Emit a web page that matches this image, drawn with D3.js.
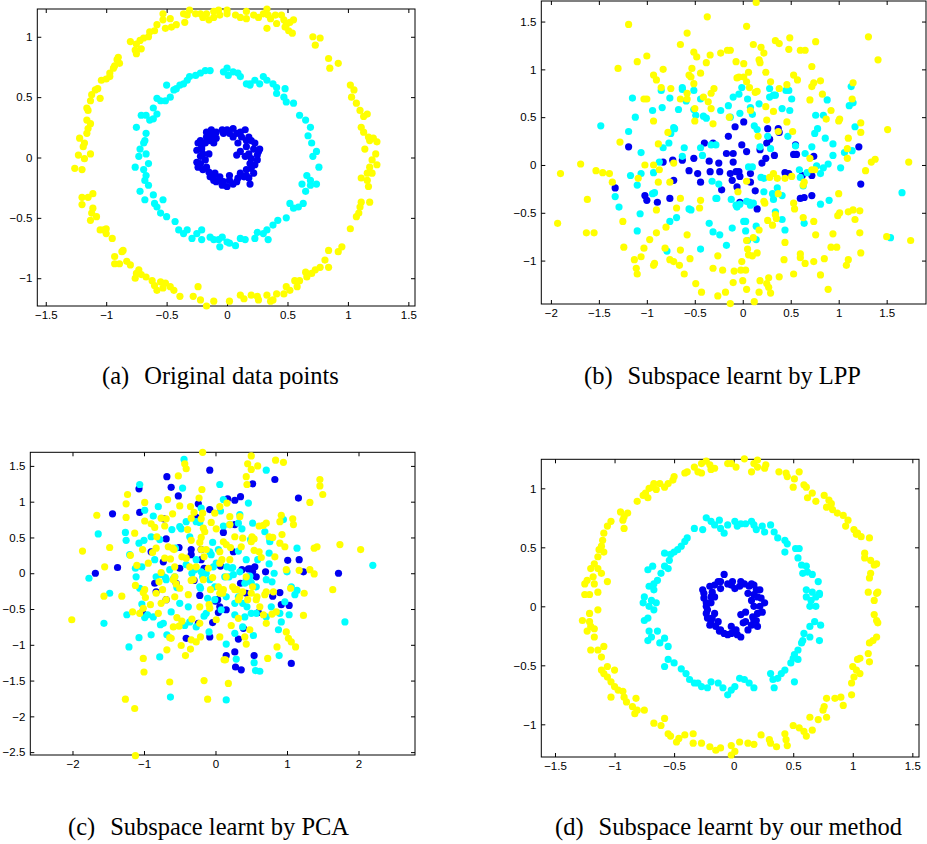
<!DOCTYPE html>
<html>
<head>
<meta charset="utf-8">
<script src="https://cdn.jsdelivr.net/npm/d3@7"></script>
<style>
body { margin: 0; background: #fff; }
</style>
</head>
<body>
<script>
// (a) original data points
var aYellow = [[-0.53,1.19],[-0.47,1.15],[-0.53,1.14],[-0.58,1.10],[-0.60,1.05],[-0.64,1.04],[-0.65,1.00],[-0.69,0.99],[-0.72,0.97],[-0.75,0.94],[-0.80,0.96],[-0.76,0.89],[-0.75,0.86],[-0.71,0.90],[-0.36,1.19],[-0.33,1.18],[-0.35,1.12],[-0.42,1.10],[-0.46,1.08],[-0.51,1.07],[-0.31,1.22],[-0.26,1.19],[-0.22,1.19],[-0.17,1.19],[-0.11,1.21],[-0.07,1.22],[-0.11,1.16],[-0.15,1.14],[-0.20,1.16],[-0.06,1.18],[0.00,1.19],[0.00,1.22],[0.07,1.18],[0.11,1.16],[0.16,1.21],[0.16,1.15],[0.22,1.18],[0.26,1.16],[0.30,1.19],[0.33,1.23],[0.34,1.18],[0.36,1.15],[0.33,1.07],[0.40,1.18],[0.41,1.11],[0.45,1.18],[0.47,1.14],[0.49,1.10],[0.52,1.12],[0.55,1.14],[0.54,1.03],[0.48,1.08],[0.51,1.05],[0.71,1.00],[0.73,0.93],[0.77,0.99],[0.84,0.82],[0.85,0.74],[0.92,0.78],[1.02,0.60],[1.03,0.50],[1.05,0.56],[1.07,0.45],[1.10,0.39],[1.13,0.34],[1.16,0.36],[1.11,0.25],[1.13,0.21],[1.17,0.17],[1.18,0.14],[1.21,0.16],[1.24,0.13],[1.14,0.07],[1.23,0.03],[1.20,-0.02],[1.18,-0.08],[1.24,-0.06],[1.16,-0.13],[1.20,-0.13],[1.11,-0.17],[1.16,-0.19],[1.17,-0.24],[1.11,-0.37],[1.18,-0.37],[1.10,-0.41],[1.09,-0.46],[1.07,-0.49],[1.02,-0.59],[0.95,-0.74],[0.92,-0.78],[0.84,-0.77],[0.84,-0.91],[0.81,-0.85],[0.77,-0.91],[0.73,-0.93],[0.70,-0.96],[0.66,-0.99],[0.65,-0.95],[0.60,-1.02],[0.56,-1.02],[0.58,-1.07],[0.49,-1.07],[0.52,-1.10],[0.47,-1.13],[0.41,-1.13],[0.38,-1.18],[0.36,-1.19],[0.33,-1.14],[0.25,-1.15],[0.26,-1.18],[0.20,-1.14],[0.14,-1.17],[0.11,-1.14],[0.02,-1.19],[-0.11,-1.19],[-0.17,-1.23],[-0.22,-1.18],[-0.24,-1.07],[-0.28,-1.15],[-0.39,-1.15],[-0.44,-1.10],[-0.47,-1.07],[-0.53,-1.08],[-0.51,-1.04],[-0.55,-1.03],[-0.60,-1.06],[-0.58,-1.10],[-0.62,-1.02],[-0.67,-0.99],[-0.71,-0.97],[-0.75,-0.96],[-0.76,-1.00],[-0.73,-0.93],[-0.80,-0.89],[-0.83,-0.86],[-0.89,-0.88],[-0.87,-0.78],[-0.86,-0.77],[-0.93,-0.82],[-0.93,-0.88],[-0.95,-0.67],[-1.00,-0.63],[-1.02,-0.60],[-1.05,-0.60],[-1.00,-0.59],[-1.08,-0.49],[-1.12,-0.46],[-1.13,-0.52],[-1.11,-0.42],[-1.11,-0.30],[-1.15,-0.33],[-1.20,-0.33],[-1.20,-0.39],[-1.26,-0.09],[-1.20,-0.10],[-1.23,0.02],[-1.18,-0.01],[-1.13,0.03],[-1.19,0.09],[-1.18,0.12],[-1.22,0.16],[-1.16,0.20],[-1.15,0.24],[-1.13,0.28],[-1.16,0.31],[-1.15,0.39],[-1.16,0.41],[-1.13,0.47],[-1.12,0.52],[-1.09,0.56],[-1.07,0.57],[-1.05,0.49],[-1.04,0.64],[-1.00,0.65],[-0.97,0.67],[-0.97,0.70],[-0.94,0.74],[-0.93,0.76],[-0.91,0.81],[-0.90,0.83],[-0.89,0.78]];
var aCyan = [[-0.14,0.72],[-0.18,0.72],[-0.22,0.70],[-0.26,0.68],[-0.31,0.67],[-0.33,0.64],[-0.36,0.61],[-0.39,0.60],[-0.42,0.57],[-0.44,0.56],[-0.50,0.60],[-0.47,0.50],[-0.51,0.47],[-0.55,0.47],[-0.58,0.49],[-0.61,0.41],[-0.58,0.36],[-0.61,0.32],[-0.64,0.31],[-0.67,0.35],[-0.71,0.35],[-0.75,0.25],[-0.67,0.20],[-0.68,0.14],[-0.69,0.12],[-0.72,0.07],[-0.67,0.03],[-0.73,0.01],[-0.76,-0.08],[-0.65,-0.05],[-0.69,-0.10],[-0.67,-0.15],[-0.68,-0.19],[-0.65,-0.23],[-0.72,-0.28],[-0.68,-0.35],[-0.61,-0.31],[-0.60,-0.38],[-0.58,-0.41],[-0.53,-0.35],[-0.55,-0.46],[-0.50,-0.49],[-0.43,-0.53],[-0.40,-0.60],[-0.36,-0.63],[-0.33,-0.60],[-0.29,-0.67],[-0.25,-0.63],[-0.21,-0.60],[-0.21,-0.68],[-0.14,-0.66],[-0.11,-0.68],[-0.07,-0.68],[-0.06,-0.74],[-0.04,-0.66],[0.00,-0.70],[0.02,-0.71],[0.07,-0.73],[0.11,-0.67],[0.15,-0.68],[0.23,-0.67],[0.25,-0.62],[0.30,-0.63],[0.33,-0.60],[0.34,-0.68],[0.38,-0.56],[0.42,-0.52],[0.49,-0.50],[0.52,-0.38],[0.55,-0.42],[0.59,-0.41],[0.63,-0.38],[0.65,-0.28],[0.62,-0.22],[0.69,-0.23],[0.74,-0.22],[0.69,-0.19],[0.66,-0.15],[0.76,-0.08],[0.71,0.01],[0.74,0.05],[0.70,0.12],[0.67,0.18],[0.69,0.25],[0.65,0.31],[0.60,0.35],[0.55,0.45],[0.49,0.46],[0.47,0.50],[0.41,0.53],[0.41,0.58],[0.38,0.61],[0.33,0.64],[0.30,0.67],[0.23,0.64],[0.19,0.61],[0.09,0.70],[0.05,0.71],[0.00,0.74],[-0.03,0.71],[0.01,0.68],[0.11,0.67],[0.16,0.61],[0.19,0.60],[0.27,0.61],[0.48,0.57]];
var aBlue = [[-0.22,0.14],[-0.17,0.21],[-0.13,0.23],[-0.09,0.21],[-0.04,0.23],[0.00,0.23],[0.05,0.24],[0.11,0.21],[0.15,0.23],[0.18,0.17],[0.20,0.14],[0.16,0.09],[0.22,0.07],[0.27,0.07],[0.25,0.02],[0.20,-0.01],[0.19,-0.05],[0.23,-0.06],[0.16,-0.10],[0.22,-0.13],[0.18,-0.17],[0.14,-0.16],[0.08,-0.20],[0.02,-0.19],[0.00,-0.24],[-0.04,-0.23],[-0.09,-0.20],[-0.11,-0.19],[-0.11,-0.15],[-0.15,-0.12],[-0.20,-0.10],[-0.24,-0.08],[-0.25,-0.04],[-0.22,0.01],[-0.25,0.06],[-0.21,0.07],[-0.18,0.12],[-0.14,0.14],[-0.11,0.12],[-0.09,0.16],[0.05,0.17],[0.09,0.12],[0.11,0.05],[0.08,0.02],[0.15,0.01],[0.18,0.03],[-0.22,0.12],[-0.06,-0.16],[0.02,-0.15],[0.11,-0.13],[-0.18,-0.02],[-0.15,0.03],[-0.24,0.12],[-0.20,0.03],[-0.22,-0.05],[-0.17,-0.08],[-0.14,-0.16],[-0.10,-0.13],[-0.07,-0.19],[-0.03,-0.20],[0.05,-0.22],[0.09,-0.17],[0.19,-0.22],[0.16,-0.15],[0.20,-0.09],[0.25,-0.02],[0.26,0.05],[0.23,0.12],[0.16,0.14],[0.12,0.17],[0.08,0.20],[0.02,0.20],[-0.03,0.20],[-0.13,0.18],[-0.17,0.17],[-0.21,0.09]];
var aXTicks = [-1.5, -1, -0.5, 0, 0.5, 1, 1.5];
var aYTicks = [-1, -0.5, 0, 0.5, 1];

// (b) subspace learnt by LPP
var bYellow = [[-1.93,-0.61],[-1.90,-0.09],[-1.69,0.01],[-1.63,-0.71],[-1.55,-0.71],[-1.62,-0.36],[-1.53,-0.06],[-1.46,-0.08],[-1.39,-0.09],[-1.36,-0.18],[-1.28,0.24],[-1.25,-0.59],[-1.24,-0.86],[-1.30,1.01],[-1.19,1.47],[-1.10,1.08],[-1.00,1.14],[-0.93,0.94],[-0.90,0.89],[-0.83,1.00],[-0.85,0.81],[-0.93,0.46],[-1.03,0.69],[-1.00,0.69],[-0.88,0.22],[-0.93,0.00],[-0.87,-0.05],[-1.02,0.00],[-1.09,-0.14],[-0.88,-0.18],[-0.76,-0.18],[-0.72,0.02],[-0.78,0.34],[-0.80,-0.65],[-0.90,-0.47],[-0.90,-0.71],[-0.97,-0.78],[-1.03,-0.87],[-1.06,-0.96],[-1.13,-0.99],[-1.11,-1.08],[-1.10,-1.14],[-0.93,-1.05],[-0.92,-1.03],[-0.81,-0.87],[-0.76,-0.99],[-0.72,-1.01],[-0.66,-1.05],[-0.65,-0.89],[-0.69,-0.45],[-0.65,-0.35],[-0.75,0.80],[-0.65,0.69],[-0.58,0.75],[-0.58,1.38],[-0.65,1.26],[-0.53,1.01],[-0.51,1.18],[-0.48,1.13],[-0.44,0.96],[-0.37,1.55],[-0.34,1.15],[-0.38,1.07],[-0.56,0.94],[-0.54,0.92],[-0.51,0.85],[-0.58,0.69],[-0.50,0.59],[-0.50,0.46],[-0.41,0.71],[-0.36,0.66],[-0.33,0.75],[-0.30,0.80],[-0.33,0.59],[-0.31,0.43],[-0.44,-0.37],[-0.45,-0.45],[-0.58,-0.73],[-0.55,-0.98],[-0.61,-1.14],[-0.49,-1.24],[-0.43,-1.33],[-0.26,-1.37],[-0.31,-1.08],[-0.26,-0.95],[-0.18,-1.33],[-0.13,-1.45],[-0.10,-1.23],[-0.09,-1.11],[-0.21,-1.10],[-0.23,1.17],[-0.16,1.20],[-0.13,1.20],[-0.07,1.08],[-0.04,0.92],[0.01,1.06],[0.06,0.97],[0.01,0.92],[0.04,0.87],[-0.06,0.91],[-0.14,0.50],[0.08,0.57],[0.07,0.81],[0.15,0.77],[0.13,0.76],[0.17,1.10],[0.18,1.07],[0.22,1.17],[0.11,1.26],[0.04,1.45],[0.19,1.23],[0.24,0.97],[0.29,0.87],[0.38,0.80],[0.32,0.56],[0.25,0.47],[0.24,0.61],[0.46,0.45],[0.37,0.35],[0.16,0.30],[0.48,1.21],[0.34,1.30],[0.38,1.27],[0.49,1.33],[0.60,1.20],[0.65,1.20],[0.53,0.94],[0.57,0.89],[0.46,0.84],[0.72,1.03],[0.76,1.29],[0.74,0.86],[0.81,0.88],[0.72,0.82],[0.83,0.74],[0.70,0.68],[0.92,0.57],[0.87,0.48],[1.00,0.46],[1.01,0.48],[1.14,0.69],[1.15,0.86],[1.23,0.44],[1.23,0.34],[1.31,1.34],[1.41,1.10],[1.51,0.37],[1.34,0.03],[1.38,0.06],[1.73,0.03],[1.28,-0.06],[1.10,0.28],[1.09,0.07],[1.09,0.17],[1.00,-0.30],[1.01,-0.50],[0.99,-0.53],[1.10,-0.49],[1.15,-0.47],[1.17,-0.57],[1.22,-0.48],[1.22,-0.71],[1.23,-0.92],[1.10,-0.99],[1.08,-1.05],[1.50,-0.75],[1.75,-0.79],[0.98,-0.86],[0.92,-0.86],[0.94,-0.72],[0.89,-1.30],[0.85,-0.98],[0.81,-1.15],[0.74,-1.01],[0.76,-0.73],[0.74,-0.59],[0.63,-0.55],[0.63,-0.21],[0.64,-0.18],[0.53,-0.40],[0.54,-0.46],[0.51,-0.12],[0.44,-0.14],[0.36,-0.14],[0.35,-0.56],[0.34,-0.52],[0.31,-0.63],[0.26,-0.58],[0.23,-0.40],[0.22,-0.38],[0.28,-0.13],[0.44,-0.81],[0.43,-0.99],[0.53,-1.14],[0.60,-0.93],[0.65,-1.03],[0.60,-0.97],[0.38,-1.17],[0.27,-1.18],[0.25,-1.24],[0.27,-1.28],[0.17,-1.33],[0.18,-1.21],[0.04,-1.30],[0.00,-1.21],[0.10,-0.95],[0.15,-0.92],[0.11,-0.76],[0.05,-0.88],[0.17,-0.68],[0.04,-0.79],[-0.01,-1.01],[-0.02,-1.10],[0.03,-1.10],[0.06,-0.94],[0.12,-1.43],[0.29,-1.34],[0.04,-0.17],[-0.05,-0.28],[0.32,-0.09],[0.72,-0.05],[0.75,-0.05],[0.70,0.07],[0.52,0.35],[0.37,-0.30],[0.14,1.70]];
var bCyan = [[-1.48,0.41],[-1.33,-0.33],[-1.29,-0.44],[-1.17,-0.11],[-1.15,0.70],[-1.12,0.50],[-1.19,0.35],[-1.10,-0.21],[-1.06,-0.09],[-1.07,-0.51],[-1.10,-0.69],[-1.06,0.13],[-0.94,0.57],[-0.93,-0.08],[-0.94,-0.30],[-0.92,-0.29],[-0.87,0.03],[-0.85,0.78],[-0.84,0.60],[-0.83,0.18],[-0.77,0.23],[-0.76,0.70],[-0.75,0.33],[-0.76,-0.59],[-0.79,-0.90],[-0.69,-0.55],[-0.72,0.39],[-0.71,0.38],[-0.67,0.58],[-0.63,0.81],[-0.63,0.79],[-0.61,0.18],[-0.59,0.67],[-0.63,0.09],[-0.56,-0.46],[-0.54,-0.47],[-0.51,0.78],[-0.51,0.58],[-0.49,0.52],[-0.44,0.18],[-0.42,0.10],[-0.44,0.69],[-0.41,0.51],[-0.38,0.49],[-0.33,0.21],[-0.28,0.21],[-0.32,-0.17],[-0.28,-0.35],[-0.27,-0.35],[-0.25,-0.20],[-0.35,-0.61],[-0.31,-0.70],[-0.24,-0.73],[-0.23,0.57],[-0.17,-0.84],[-0.12,-0.36],[-0.11,-0.66],[-0.07,-0.42],[-0.06,-0.44],[-0.03,-0.41],[0.01,-0.59],[0.03,-0.69],[0.05,-0.79],[0.03,-0.59],[0.04,-0.38],[0.07,-0.39],[0.08,-0.42],[0.11,-0.40],[0.14,-0.78],[0.14,-0.64],[-0.01,0.81],[0.05,0.69],[0.08,0.60],[0.10,0.53],[0.12,0.41],[0.15,0.37],[0.17,0.64],[0.18,0.19],[0.10,-0.02],[0.06,-0.02],[0.19,-0.13],[0.22,-0.28],[0.22,-0.14],[0.31,-0.30],[0.32,-0.36],[0.34,-0.49],[0.36,-0.24],[0.41,-0.32],[0.41,-0.57],[0.44,-0.68],[0.45,0.78],[0.48,0.78],[0.49,0.57],[0.41,0.59],[0.51,0.69],[0.47,0.30],[0.55,0.20],[0.59,-0.05],[0.60,-0.13],[0.63,-0.22],[0.67,-0.08],[0.72,0.19],[0.76,0.52],[0.75,0.33],[0.78,0.38],[0.77,-0.01],[0.81,-0.09],[0.84,-0.03],[0.86,0.28],[0.89,0.01],[0.90,-0.37],[0.81,-0.41],[0.94,0.22],[0.94,0.10],[0.88,0.68],[0.84,0.52],[1.02,-0.03],[1.06,0.13],[1.13,0.82],[1.15,0.65],[1.14,0.15],[1.17,0.40],[1.11,0.62],[0.26,0.30],[0.29,0.17],[-0.13,0.50],[-0.04,0.74],[-0.03,0.54],[0.34,0.73],[0.32,0.73],[0.28,0.71],[0.28,0.80],[0.65,0.12],[-0.15,0.62],[-0.10,0.71],[0.64,-0.61],[1.66,-0.29],[1.54,-0.76],[-0.44,-0.88]];
var bBlue = [[-1.33,-0.24],[-1.19,0.19],[-1.02,-0.32],[-1.00,-0.37],[-0.89,-0.39],[-0.83,0.03],[-0.76,-0.35],[-0.73,0.05],[-0.72,-0.16],[-0.63,0.05],[-0.56,-0.06],[-0.51,0.07],[-0.47,-0.09],[-0.44,-0.18],[-0.35,0.04],[-0.40,0.23],[-0.34,-0.07],[-0.25,0.02],[-0.24,-0.07],[-0.22,-0.26],[-0.15,0.30],[-0.17,0.12],[-0.10,0.03],[-0.10,0.12],[-0.08,0.40],[-0.13,-0.09],[-0.11,-0.16],[-0.04,-0.07],[-0.06,-0.23],[-0.03,-0.39],[0.01,0.45],[-0.01,0.21],[0.04,0.14],[0.08,-0.09],[0.08,-0.18],[0.13,-0.27],[0.15,-0.46],[0.18,0.16],[0.20,0.02],[0.24,0.07],[0.25,0.23],[0.26,0.38],[0.28,0.27],[0.33,0.10],[0.37,0.38],[0.38,0.34],[0.44,-0.08],[0.48,-0.09],[0.53,0.11],[0.55,0.21],[0.56,0.11],[0.60,-0.35],[0.62,-0.11],[0.64,-0.34],[0.72,-0.11],[0.72,-0.32],[0.74,0.09],[1.21,0.19],[1.23,-0.20],[-0.03,-0.12],[-0.07,-0.07],[-0.31,0.23]];
var bXTicks = [-2, -1.5, -1, -0.5, 0, 0.5, 1, 1.5];
var bYTicks = [-1, -0.5, 0, 0.5, 1, 1.5];

// (c) subspace learnt by PCA
var cYellow = [[-2.01,-0.65],[-1.86,0.31],[-1.66,0.81],[-1.56,-0.32],[-1.55,0.09],[-1.48,0.36],[-1.31,-0.32],[-1.26,-1.76],[-1.25,0.97],[-1.25,0.78],[-1.23,1.10],[-1.19,0.25],[-1.13,-1.89],[-1.12,-2.55],[-1.13,0.56],[-1.10,0.11],[-1.12,-0.17],[-1.06,-0.56],[-1.16,-0.54],[-1.01,-1.19],[-1.00,-1.38],[-0.99,0.99],[-0.99,0.73],[-0.98,-0.34],[-1.01,-0.27],[-1.02,0.33],[-0.91,-0.44],[-0.90,0.69],[-0.88,0.29],[-0.85,0.64],[-0.82,0.51],[-0.79,-0.12],[-0.80,-0.56],[-0.76,0.01],[-0.74,-0.23],[-0.76,-0.42],[-0.71,0.66],[-0.69,0.76],[-0.67,1.03],[-0.68,-1.07],[-0.64,-0.90],[-0.64,-1.52],[-0.62,-0.91],[-0.66,0.37],[-0.63,0.20],[-0.60,0.83],[-0.60,0.35],[-0.58,0.33],[-0.57,-0.05],[-0.55,-0.15],[-0.54,-0.62],[-0.52,1.36],[-0.51,-0.74],[-0.47,0.23],[-0.48,-1.01],[-0.47,-0.67],[-0.42,-1.15],[-0.43,1.53],[-0.41,1.46],[-0.39,0.61],[-0.35,0.93],[-0.35,-1.06],[-0.34,-0.10],[-0.34,0.46],[-0.33,-0.64],[-0.30,0.85],[-0.27,0.09],[-0.23,1.05],[-0.22,0.43],[-0.21,-0.89],[-0.20,0.76],[-0.20,0.50],[-0.19,1.17],[-0.18,0.84],[-0.17,0.63],[-0.16,0.23],[-0.16,-1.50],[-0.13,0.33],[-0.11,-1.76],[-0.09,-0.44],[-0.07,-0.23],[-0.06,0.71],[-0.04,-0.06],[-0.01,0.84],[0.01,0.62],[0.04,-0.19],[0.06,-0.28],[0.09,0.19],[0.10,-0.28],[0.12,-1.21],[0.14,-1.21],[0.16,0.98],[0.15,0.40],[0.18,-1.54],[0.20,0.68],[0.22,-0.73],[0.21,0.36],[0.27,0.51],[0.30,-0.23],[0.32,-0.63],[0.34,0.79],[0.34,-0.33],[0.38,0.49],[0.38,-0.26],[0.43,1.35],[0.44,1.24],[0.45,1.53],[0.43,-0.99],[0.45,-0.37],[0.48,-0.79],[0.50,1.64],[0.50,1.45],[0.51,0.51],[0.54,0.48],[0.52,-0.19],[0.54,0.32],[0.57,-0.37],[0.59,1.50],[0.61,0.66],[0.61,0.30],[0.64,0.22],[0.67,0.67],[0.71,-0.26],[0.71,-0.70],[0.73,-1.19],[0.75,0.51],[0.80,0.50],[0.83,0.23],[0.84,1.58],[0.86,-1.03],[0.90,0.72],[0.92,0.81],[0.93,0.54],[0.95,1.55],[0.97,0.37],[0.99,0.05],[1.02,-0.91],[1.05,-0.21],[1.06,-0.96],[1.08,0.76],[1.12,-1.03],[1.17,0.04],[1.23,-0.59],[1.24,-0.28],[1.32,0.99],[1.32,0.05],[1.38,-0.01],[1.46,1.31],[1.46,1.22],[1.50,1.10],[1.38,0.35],[1.42,0.37],[1.64,-0.23],[1.74,0.40],[2.03,0.33],[0.79,-0.57],[0.24,-0.19],[-0.18,1.69],
    [-0.76,0.77],[-0.50,0.94],[-0.34,0.77],[-0.15,0.58],[-0.20,0.33],[0.06,0.93],[0.20,0.79],[0.11,0.44],[0.06,0.30],[0.36,0.37],[0.50,0.44],[0.71,0.70],[0.43,-0.05],[0.50,-0.28],[0.58,-0.33],[0.69,-0.30],[0.81,-0.26],[0.85,-0.54],[0.67,-0.58],[0.62,-0.47],[0.99,-0.82],[0.41,-0.89],[0.06,-0.89],[0.01,-0.65],[-0.08,-0.49],[-0.22,-0.47],[-0.59,-0.75],[-0.34,-0.93],[-0.27,-0.96],[-0.22,-0.70],[-0.38,-0.30],[-0.50,-0.21],[-0.59,-0.09],[-0.83,-0.28],[-1.01,-0.49],[-0.99,-0.23],[-0.94,0.14],[-0.83,0.35],[-0.71,0.21],[-0.57,0.09],[-0.41,0.21],[-0.36,0.09],[-0.10,0.07],[0.06,0.14],[0.20,0.19],[0.15,-0.05],[0.11,-0.23],[0.27,-0.23],[0.32,-0.37],[-0.31,-0.09],[-0.17,-0.09],[-0.57,-0.33],[-0.69,-0.37],[1.09,0.68],[0.90,0.42]];
var cCyan = [[-1.77,-0.07],[-1.64,0.55],[-1.56,-0.70],[-1.48,-0.28],[-1.26,0.57],[-1.25,0.46],[-1.20,0.26],[-1.21,-1.03],[-1.12,0.07],[-1.07,-0.90],[-1.06,1.24],[-1.11,-0.05],[-1.03,0.09],[-1.07,0.42],[-1.00,0.46],[-1.03,-0.43],[-0.99,0.88],[-0.99,-0.62],[-0.95,-0.58],[-0.90,-0.86],[-0.90,0.51],[-0.87,0.80],[-0.85,0.19],[-0.80,0.93],[-0.78,-1.17],[-0.77,-0.72],[-0.75,-0.02],[-0.70,-0.06],[-0.68,-0.86],[-0.61,0.61],[-0.59,-0.08],[-0.56,0.35],[-0.54,-0.20],[-0.50,-0.42],[-0.48,0.62],[-0.46,1.19],[-0.44,1.59],[-0.43,-0.73],[-0.38,-0.47],[-0.36,0.51],[-0.33,0.00],[-0.29,0.05],[-0.22,0.71],[-0.21,-0.21],[-0.20,0.02],[-0.18,-0.05],[-0.16,-0.60],[-0.11,-0.35],[-0.09,-0.82],[-0.08,0.30],[-0.06,0.26],[-0.04,0.43],[-0.01,-0.19],[0.04,0.33],[0.06,1.24],[0.07,-0.28],[0.07,0.87],[0.11,0.66],[0.13,-0.05],[0.15,-0.99],[0.16,0.09],[0.19,-0.05],[0.24,0.08],[0.27,-0.84],[0.29,-1.20],[0.32,0.31],[0.32,-0.33],[0.37,0.62],[0.38,-0.75],[0.41,-0.14],[0.44,-0.47],[0.46,0.98],[0.47,-0.07],[0.48,-0.04],[0.50,-0.13],[0.52,0.70],[0.53,-0.87],[0.54,-1.25],[0.56,-1.36],[0.57,-0.56],[0.59,0.19],[0.62,-1.37],[0.71,1.44],[0.75,0.28],[0.75,0.13],[0.79,-0.12],[0.82,0.00],[0.88,-0.79],[0.89,-1.15],[0.92,-0.68],[0.95,0.75],[1.00,0.02],[1.03,-0.58],[1.06,-0.19],[1.14,0.35],[1.14,-0.24],[1.81,-0.68],[2.20,0.11],[0.15,-1.77],[-0.63,-1.73],[0.49,0.47],[0.38,-0.42],[0.76,0.47],[-0.03,0.09],
    [-0.78,0.47],[-0.50,0.65],[-0.41,0.72],[-0.27,0.72],[-0.20,0.91],[0.11,1.03],[0.20,0.68],[0.34,0.82],[0.32,0.70],[0.69,0.58],[0.76,0.44],[1.11,-0.30],[0.90,-0.56],[0.97,-0.40],[0.71,-0.61],[0.78,-0.47],[0.57,-0.19],[0.71,-0.09],[0.43,0.19],[0.34,0.02],[0.22,0.07],[0.25,-0.02],[0.43,-0.09],[0.01,0.14],[-0.13,0.00],[-0.27,0.19],[-0.41,0.12],[-0.57,-0.05],[-0.64,0.05],[-0.69,-0.09],[-0.83,-0.05],[-1.06,-0.21],[-1.24,-0.58],[-0.87,-0.61],[-0.73,-0.70],[-0.62,-0.54],[-0.36,-0.68],[-0.27,-0.75],[-0.13,-0.56],[-0.01,-0.37],[0.08,-0.51],[0.27,-0.42],[0.27,-0.58],[0.41,-0.61],[0.50,-0.56],[0.15,-0.33],[-0.22,-0.19],[-0.08,-0.09]];
var cBlue = [[-1.68,0.00],[-1.44,0.83],[-1.37,0.08],[-1.07,1.18],[-1.06,0.85],[-1.02,-0.54],[-0.90,0.30],[-0.85,-0.14],[-0.83,-0.26],[-0.72,0.76],[-0.69,0.48],[-0.68,1.35],[-0.69,-0.37],[-0.62,1.20],[-0.52,1.08],[-0.51,0.36],[-0.41,-0.91],[-0.34,0.33],[-0.30,-0.10],[-0.27,0.78],[-0.24,0.97],[-0.22,-0.31],[-0.20,0.19],[-0.16,0.07],[-0.08,1.44],[-0.08,0.89],[-0.08,-0.89],[-0.04,-0.69],[0.00,-0.39],[0.03,-0.37],[0.04,-0.55],[0.07,0.10],[0.11,0.57],[0.15,-1.15],[0.17,1.04],[0.27,1.02],[0.27,-1.10],[0.28,-1.31],[0.32,-0.92],[0.35,-0.14],[0.37,0.05],[0.35,1.07],[0.39,-0.77],[0.43,-0.28],[0.49,0.06],[0.52,1.25],[0.55,0.09],[0.54,-1.15],[0.60,-0.55],[0.70,0.02],[0.80,-0.32],[0.83,1.31],[0.90,-0.27],[1.01,0.18],[1.17,0.19],[1.16,1.05],[1.23,0.02],[1.06,-1.26],[1.72,0.00],[1.03,-0.45],[0.36,-1.35],
    [0.27,0.68],[-0.73,0.16],[-0.34,0.26],[-0.20,0.33],[0.25,0.30],[0.46,0.06],[0.52,0.02],[0.57,-0.05],[-0.55,-0.14],[-0.50,0.07],[0.06,-0.47],[0.15,-0.51],[0.92,-0.44],[-0.24,-0.70]];
var cXTicks = [-2, -1, 0, 1, 2];
var cYTicks = [-2.5, -2, -1.5, -1, -0.5, 0, 0.5, 1, 1.5];

// (d) subspace learnt by our method
var dYellow = [[-0.27,1.21],[-0.23,1.23],[-0.20,1.20],[-0.19,1.16],[-0.16,1.17],[-0.27,1.13],[-0.30,1.14],[-0.33,1.18],[-0.39,1.14],[-0.41,1.13],[-0.50,1.10],[-0.51,1.07],[-0.55,1.04],[-0.58,1.01],[-0.62,1.04],[-0.65,0.99],[-0.68,1.01],[-0.71,1.00],[-0.74,0.96],[-0.76,0.94],[-0.81,0.89],[-0.72,0.92],[-0.67,1.04],[-0.89,0.79],[-0.92,0.76],[-0.95,0.80],[-0.93,0.73],[-0.92,0.66],[-1.03,0.72],[-1.06,0.68],[-1.09,0.62],[-1.10,0.56],[-1.11,0.51],[-1.13,0.48],[-1.09,0.46],[-1.14,0.42],[-1.17,0.36],[-1.20,0.32],[-1.14,0.32],[-1.18,0.25],[-1.23,0.22],[-1.17,0.19],[-1.11,0.28],[-1.06,0.21],[-1.25,0.19],[-1.25,0.10],[-1.21,0.10],[-1.14,0.12],[-1.27,-0.12],[-1.21,-0.13],[-1.20,-0.17],[-1.17,-0.19],[-1.14,-0.03],[-1.21,-0.06],[-1.23,-0.21],[-1.17,-0.26],[-1.20,-0.37],[-1.14,-0.37],[-1.11,-0.43],[-1.09,-0.34],[-1.11,-0.54],[-1.09,-0.57],[-1.06,-0.51],[-1.00,-0.54],[-1.06,-0.60],[-1.03,-0.64],[-1.00,-0.68],[-0.97,-0.71],[-1.03,-0.77],[-0.93,-0.72],[-0.92,-0.77],[-0.90,-0.81],[-0.85,-0.85],[-0.82,-0.78],[-0.81,-0.88],[-0.83,-0.91],[-0.75,-0.88],[-0.67,-0.99],[-0.58,-0.95],[-0.61,-1.01],[-0.55,-1.08],[-0.53,-1.10],[-0.48,-1.15],[-0.46,-1.12],[-0.41,-1.09],[-0.34,-1.08],[-0.34,-1.16],[-0.27,-1.16],[-0.20,-1.19],[-0.15,-1.22],[-0.11,-1.20],[-0.02,-1.18],[-0.02,-1.26],[0.01,-1.23],[0.05,-1.15],[0.12,-1.16],[0.17,-1.17],[0.23,-1.09],[0.30,-1.13],[0.31,-1.16],[0.36,-1.19],[0.43,-1.08],[0.44,-1.13],[0.45,-1.18],[0.50,-1.01],[0.55,-1.03],[0.59,-1.06],[0.61,-1.10],[0.66,-1.05],[0.64,-0.94],[0.71,-0.96],[0.75,-0.88],[0.76,-0.85],[0.78,-0.94],[0.78,-0.78],[0.85,-0.78],[0.90,-0.77],[0.92,-0.84],[0.99,-0.75],[0.99,-0.65],[1.01,-0.60],[1.06,-0.57],[1.03,-0.54],[1.00,-0.51],[1.04,-0.45],[1.06,-0.44],[1.14,-0.47],[1.13,-0.40],[1.14,-0.31],[1.17,-0.29],[1.20,-0.26],[1.21,-0.14],[1.20,-0.12],[1.18,-0.07],[1.18,0.05],[1.20,0.11],[1.13,0.12],[1.21,0.12],[1.14,0.24],[1.15,0.28],[1.18,0.35],[1.20,0.36],[1.15,0.39],[1.10,0.45],[1.10,0.41],[1.14,0.58],[1.07,0.59],[1.03,0.61],[1.01,0.65],[1.04,0.62],[0.96,0.73],[0.94,0.68],[0.92,0.77],[0.87,0.79],[0.83,0.82],[0.82,0.87],[0.78,0.84],[0.80,0.90],[0.76,0.94],[0.69,0.89],[0.66,0.96],[0.62,0.92],[0.61,1.01],[0.59,1.03],[0.55,1.14],[0.51,1.08],[0.50,1.01],[0.45,1.10],[0.44,1.13],[0.38,1.14],[0.27,1.20],[0.26,1.17],[0.20,1.18],[0.17,1.21],[0.20,1.24],[0.15,1.14],[0.09,1.25],[0.02,1.18],[-0.02,1.21],[-0.05,1.21]];
var dCyan = [[-0.23,0.75],[-0.19,0.72],[-0.16,0.69],[-0.12,0.73],[-0.11,0.66],[-0.08,0.62],[-0.05,0.69],[0.01,0.72],[0.03,0.68],[0.06,0.70],[0.10,0.70],[0.15,0.72],[0.17,0.69],[0.19,0.65],[0.24,0.68],[0.26,0.63],[0.31,0.69],[0.34,0.63],[0.37,0.58],[0.43,0.56],[0.45,0.53],[0.43,0.46],[0.52,0.49],[0.55,0.49],[0.54,0.41],[0.57,0.35],[0.61,0.34],[0.58,0.28],[0.62,0.29],[0.66,0.27],[0.71,0.21],[0.61,0.14],[0.66,0.12],[0.72,0.11],[0.69,0.08],[0.65,0.05],[0.61,0.08],[0.64,0.00],[0.69,0.00],[0.72,0.10],[0.68,-0.13],[0.73,-0.16],[0.64,-0.17],[0.59,-0.23],[0.64,-0.26],[0.58,-0.29],[0.72,-0.29],[0.57,-0.31],[0.54,-0.37],[0.51,-0.41],[0.50,-0.44],[0.54,-0.45],[0.48,-0.48],[0.43,-0.54],[0.40,-0.57],[0.37,-0.61],[0.31,-0.57],[0.33,-0.62],[0.51,-0.64],[0.34,-0.69],[0.17,-0.69],[0.13,-0.65],[0.09,-0.62],[0.05,-0.61],[0.01,-0.68],[-0.02,-0.71],[-0.05,-0.75],[-0.09,-0.69],[-0.13,-0.65],[-0.19,-0.64],[-0.22,-0.69],[-0.27,-0.68],[-0.30,-0.65],[-0.33,-0.65],[-0.37,-0.62],[-0.40,-0.57],[-0.44,-0.53],[-0.50,-0.48],[-0.55,-0.45],[-0.58,-0.51],[-0.55,-0.34],[-0.58,-0.27],[-0.62,-0.31],[-0.64,-0.21],[-0.69,-0.26],[-0.72,-0.29],[-0.71,-0.21],[-0.72,-0.10],[-0.75,-0.12],[-0.71,0.00],[-0.67,-0.03],[-0.65,0.03],[-0.69,0.05],[-0.76,0.03],[-0.75,0.08],[-0.67,0.14],[-0.71,0.17],[-0.67,0.19],[-0.64,0.22],[-0.61,0.28],[-0.58,0.34],[-0.55,0.32],[-0.54,0.39],[-0.53,0.44],[-0.50,0.46],[-0.58,0.45],[-0.47,0.48],[-0.44,0.51],[-0.41,0.55],[-0.39,0.58],[-0.33,0.66],[-0.26,0.65],[-0.68,0.34],[-0.72,0.31]];
var dBlue = [[-0.26,0.14],[-0.20,0.17],[-0.16,0.18],[-0.13,0.21],[-0.11,0.21],[-0.08,0.27],[-0.05,0.19],[-0.02,0.18],[0.01,0.15],[0.05,0.17],[0.09,0.19],[0.13,0.17],[0.17,0.18],[0.19,0.14],[0.20,0.08],[0.23,0.07],[0.26,0.03],[0.24,-0.05],[0.20,-0.06],[0.17,-0.12],[0.20,-0.17],[0.15,-0.16],[0.10,-0.13],[0.08,-0.14],[0.06,-0.07],[0.10,-0.05],[0.02,-0.20],[-0.02,-0.23],[-0.05,-0.24],[-0.08,-0.23],[-0.11,-0.20],[-0.15,-0.17],[-0.20,-0.16],[-0.22,-0.10],[-0.23,-0.06],[-0.23,0.00],[-0.19,0.03],[-0.19,0.08],[-0.25,0.07],[-0.16,0.08],[0.12,0.11],[0.17,0.00],[0.15,0.05],[0.06,-0.26],[0.01,-0.21],[-0.13,-0.13],[-0.16,-0.06],[0.17,0.10],
    [-0.25,0.11],[-0.22,-0.03],[-0.19,-0.13],[-0.12,-0.21],[-0.02,-0.17],[0.03,-0.24],[0.12,-0.20],[0.16,-0.09],[0.22,0.00],[0.22,0.14],[0.15,0.19],[0.06,0.21],[-0.01,0.21],[-0.11,0.15],[-0.18,0.12],[-0.23,0.03],[-0.18,-0.10],[0.19,-0.12]];
var dXTicks = [-1.5, -1, -0.5, 0, 0.5, 1, 1.5];
var dYTicks = [-1, -0.5, 0, 0.5, 1];

var blue = "#0000f0", cyan = "#00ffff", yellow = "#ffff00";
var dotRadius = 3.6;
var tickFont = "'Liberation Sans', Arial, Helvetica, sans-serif";
var captionFont = "'Liberation Serif', 'Times New Roman', Times, serif";

var panels = [
    { box: [37.3, 9, 415, 306], xDomain: [-1.57, 1.555], yDomain: [-1.23, 1.23],
      xTicks: aXTicks, yTicks: aYTicks, series: [[aBlue, blue], [aCyan, cyan], [aYellow, yellow]],
      label: "(a)", caption: "Original data points", capX: 102, capY: 384 },
    { box: [541.3, 1, 926, 304], xDomain: [-2.1, 1.91], yDomain: [-1.454, 1.715],
      xTicks: bXTicks, yTicks: bYTicks, series: [[bBlue, blue], [bCyan, cyan], [bYellow, yellow]],
      label: "(b)", caption: "Subspace learnt by LPP", capX: 584, capY: 384 },
    { box: [30.3, 452.3, 415, 755], xDomain: [-2.59, 2.79], yDomain: [-2.54, 1.69],
      xTicks: cXTicks, yTicks: cYTicks, series: [[cBlue, blue], [cCyan, cyan], [cYellow, yellow]],
      label: "(c)", caption: "Subspace learnt by PCA", capX: 68, capY: 835 },
    { box: [541.3, 459.3, 919, 757], xDomain: [-1.615, 1.556], yDomain: [-1.277, 1.246],
      xTicks: dXTicks, yTicks: dYTicks, series: [[dBlue, blue], [dCyan, cyan], [dYellow, yellow]],
      label: "(d)", caption: "Subspace learnt by our method", capX: 555, capY: 835 }
];

var svg = d3.select("body").append("svg")
    .attr("width", 927)
    .attr("height", 844);

function drawPanel(p) {
    var left = p.box[0], top = p.box[1], right = p.box[2], bottom = p.box[3];
    var x = d3.scaleLinear().domain(p.xDomain).range([left, right]);
    var y = d3.scaleLinear().domain(p.yDomain).range([bottom, top]);
    var fmt = d3.format("~g");
    var g = svg.append("g");

    g.append("rect")
        .attr("x", left).attr("y", top)
        .attr("width", right - left).attr("height", bottom - top)
        .attr("fill", "none").attr("stroke", "#000").attr("stroke-width", 1);

    function styleAxis(sel) {
        sel.select(".domain").remove();
        sel.selectAll(".tick line").attr("stroke", "#000");
        sel.attr("font-family", tickFont).attr("font-size", 11.5);
        sel.selectAll(".tick text").attr("fill", "#000");
    }

    g.append("g").attr("transform", "translate(0," + bottom + ")")
        .call(d3.axisBottom(x).tickValues(p.xTicks).tickSizeInner(-4).tickSizeOuter(0).tickPadding(5).tickFormat(fmt))
        .call(styleAxis);
    g.append("g").attr("transform", "translate(0," + top + ")")
        .call(d3.axisTop(x).tickValues(p.xTicks).tickSizeInner(-4).tickSizeOuter(0).tickFormat(""))
        .call(styleAxis);
    g.append("g").attr("transform", "translate(" + left + ",0)")
        .call(d3.axisLeft(y).tickValues(p.yTicks).tickSizeInner(-4).tickSizeOuter(0).tickPadding(5).tickFormat(fmt))
        .call(styleAxis);
    g.append("g").attr("transform", "translate(" + right + ",0)")
        .call(d3.axisRight(y).tickValues(p.yTicks).tickSizeInner(-4).tickSizeOuter(0).tickFormat(""))
        .call(styleAxis);

    p.series.forEach(function(s) {
        g.append("g").selectAll("circle")
            .data(s[0])
            .enter()
            .append("circle")
            .attr("cx", function(d) { return x(d[0]); })
            .attr("cy", function(d) { return y(d[1]); })
            .attr("r", dotRadius)
            .style("fill", s[1]);
    });

    var cap = svg.append("text")
        .attr("x", p.capX)
        .attr("y", p.capY)
        .attr("font-family", captionFont)
        .attr("font-size", 24.5)
        .attr("fill", "#000");
    cap.append("tspan").text(p.label);
    cap.append("tspan").attr("dx", 15).text(p.caption);
}

panels.forEach(drawPanel);
</script>
</body>
</html>
